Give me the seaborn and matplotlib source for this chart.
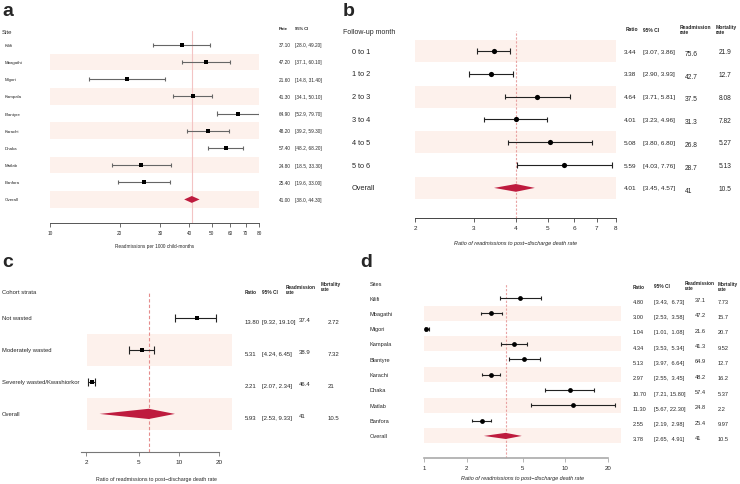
import numpy as np
import matplotlib
matplotlib.use("Agg")
import matplotlib.pyplot as plt
from matplotlib.transforms import blended_transform_factory
import seaborn as sns

# ---------------- data ----------------
# panel a: readmission rate by site
a_sites = ["Kilifi", "Mbagathi", "Migori", "Kampala", "Blantyre", "Karachi",
           "Dhaka", "Matlab", "Banfora", "Overall"]
a_rate = [37.10, 47.20, 21.60, 41.30, 64.90, 48.20, 57.40, 24.80, 25.40, 41.00]
a_lo = [28.0, 37.1, 14.8, 34.1, 52.9, 39.2, 48.2, 18.5, 19.6, 38.0]
a_hi = [49.20, 60.10, 31.40, 50.10, 79.70, 59.30, 68.20, 33.30, 33.00, 44.30]
a_ticks = [10, 20, 30, 40, 50, 60, 70, 80]

# panel b: by follow-up month
b_months = ["0 to 1", "1 to 2", "2 to 3", "3 to 4", "4 to 5", "5 to 6", "Overall"]
b_ratio = [3.44, 3.38, 4.64, 4.01, 5.08, 5.59, 4.01]
b_lo = [3.07, 2.90, 3.71, 3.23, 3.80, 4.03, 3.45]
b_hi = [3.86, 3.93, 5.81, 4.96, 6.80, 7.76, 4.57]
b_readm = ["75.6", "42.7", "37.5", "31.3", "26.8", "28.7", "41"]
b_mort = ["21.9", "12.7", "8.08", "7.82", "5.27", "5.13", "10.5"]
b_ticks = [2, 3, 4, 5, 6, 7, 8]

# panel c: by cohort strata
c_strata = ["Not wasted", "Moderately wasted", "Severely wasted/Kwashiorkor", "Overall"]
c_ratio = [13.80, 5.31, 2.21, 5.93]
c_lo = [9.32, 4.24, 2.07, 2.53]
c_hi = [19.10, 6.45, 2.34, 9.33]
c_readm = ["37.4", "38.9", "46.4", "41"]
c_mort = ["2.72", "7.32", "21", "10.5"]
c_ticks = [2, 5, 10, 20]

# panel d: ratio by site
d_sites = a_sites
d_ratio = [4.80, 3.00, 1.04, 4.34, 5.13, 2.97, 10.70, 11.30, 2.55, 3.78]
d_lo = [3.43, 2.53, 1.01, 3.53, 3.97, 2.55, 7.21, 5.67, 2.19, 2.65]
d_hi = [6.73, 3.58, 1.08, 5.34, 6.64, 3.45, 15.80, 22.30, 2.98, 4.91]
d_readm = ["37.1", "47.2", "21.6", "41.3", "64.9", "48.2", "57.4", "24.8", "25.4", "41"]
d_mort = ["7.73", "15.7", "20.7", "9.52", "12.7", "16.2", "5.37", "2.2", "9.97", "10.5"]
d_ticks = [1, 2, 5, 10, 20]

BAND = "#FDF1EC"
DIAM = "#BE1B3E"
W, H = 740, 485

sns.set_theme(style="white")
plt.rcParams["font.family"] = ["Liberation Sans", "DejaVu Sans"]

fig = plt.figure(figsize=(W / 100, H / 100), dpi=100)


def add_ax(x0, y0, x1, y1):
    return fig.add_axes([x0 / W, 1 - y1 / H, (x1 - x0) / W, (y1 - y0) / H])


def put(ax, xpix, y, s, **kw):
    tr = blended_transform_factory(fig.transFigure, ax.transData)
    ax.text(xpix / W, y, s, transform=tr, clip_on=False, **kw)


def forest(ax, est, lo, hi, xlim, ylim, bands, marker, msize, lcolor,
           ref, refstyle, refcolor, ticks, tickfs, axcolor, axlw, bounds,
           band_x=None, dh=0.17):
    n = len(est)
    ax.set_xscale("log")
    ax.set_xlim(*xlim)
    ax.set_ylim(*ylim)
    bx = band_x if band_x else xlim
    for i in bands:
        ax.fill_between([bx[0], bx[1]], i - 0.49, i + 0.49, color=BAND, lw=0, zorder=0)
    ax.axvline(ref, color=refcolor, ls=refstyle, lw=0.8, zorder=1)
    rows = np.arange(n - 1)
    for i in rows:
        ax.hlines(i, lo[i], hi[i], color=lcolor, lw=0.8, zorder=2)
        ax.vlines([lo[i], hi[i]], i - 0.12, i + 0.12, color=lcolor, lw=0.8, zorder=2)
    sns.scatterplot(x=est[:-1], y=rows, ax=ax, marker=marker, s=msize,
                    color="black", edgecolor="black", linewidth=0, legend=False, zorder=3)
    k = n - 1
    ax.fill([lo[k], est[k], hi[k], est[k]], [k, k - dh, k, k + dh],
            color=DIAM, lw=0, zorder=3)
    for s in ["top", "right", "left"]:
        ax.spines[s].set_visible(False)
    ax.spines["bottom"].set_color(axcolor)
    ax.spines["bottom"].set_linewidth(axlw)
    ax.spines["bottom"].set_bounds(*bounds)
    ax.set_yticks([])
    ax.set_xticks(ticks)
    ax.set_xticklabels([str(t) for t in ticks])
    ax.xaxis.set_minor_locator(matplotlib.ticker.NullLocator())
    ax.tick_params(axis="x", bottom=True, length=3, width=0.6, color=axcolor,
                   labelsize=tickfs, pad=2)
    ax.patch.set_alpha(0)


# ---------- panel a ----------
ax = add_ax(50, 32, 259, 224)
forest(ax, a_rate, a_lo, a_hi, (10, 80), (10.37, -0.8), [1, 3, 5, 7, 9],
       "s", 5, "#666666", 41.0, "-", "#F3C4C4", a_ticks, 3.4, "#555555", 0.7, (10, 80),
       dh=0.2)
ax.set_xlabel("Readmissions per 1000 child-months", fontsize=3.4, labelpad=6)
fig.text(2 / W, 1 - 12 / H, "a", fontsize=14, fontweight="bold", va="center")
put(ax, 2, -0.8, "Site", fontsize=4.3, va="center")
put(ax, 279, -0.95, "Rate", fontsize=3, fontweight="bold", va="center")
put(ax, 295, -0.95, "95% CI", fontsize=3, fontweight="bold", va="center")
for i, s in enumerate(a_sites):
    put(ax, 5, i, s, fontsize=3.2, va="center")
    put(ax, 279, i, f"{a_rate[i]:.2f}", fontsize=3.4, va="center")
    put(ax, 295, i, f"[{a_lo[i]:.1f}, {a_hi[i]:.2f}]", fontsize=3.4, va="center")

# ---------- panel b ----------
ax = add_ax(415, 32, 616, 219)
forest(ax, b_ratio, b_lo, b_hi, (2, 8), (7.32, -0.88), [0, 2, 4, 6],
       "o", 14, "#222222", 4.01, (0, (2, 1.5)), "#E9A3A3", b_ticks, 4.6, "#444444", 0.7, (2, 8))
ax.set_xlabel("Ratio of readmissions to post\u2212discharge death rate",
              fontsize=4, style="italic", labelpad=7)
fig.text(343 / W, 1 - 12 / H, "b", fontsize=14, fontweight="bold", va="center")
put(ax, 343, -0.88, "Follow-up month", fontsize=5, va="center")
put(ax, 626, -1.0, "Ratio", fontsize=3.6, fontweight="bold", va="center")
put(ax, 643, -0.95, "95% CI", fontsize=3.6, fontweight="bold", va="center")
put(ax, 680, -0.95, "Readmission\nrate", fontsize=3.6, fontweight="bold", va="center",
    linespacing=1.0)
put(ax, 716, -0.95, "Mortality\nrate", fontsize=3.6, fontweight="bold", va="center",
    linespacing=1.0)
for i, s in enumerate(b_months):
    put(ax, 352, i, s, fontsize=5.3, va="center")
    put(ax, 624, i, f"{b_ratio[i]:.2f}", fontsize=4.6, va="center")
    put(ax, 643, i, f"[{b_lo[i]:.2f}, {b_hi[i]:.2f}]", fontsize=4.6, va="center")
    put(ax, 685, i + 0.1, b_readm[i], fontsize=4.8, va="center")
    put(ax, 719, i + 0.03, b_mort[i], fontsize=4.8, va="center")

# ---------- panel c ----------
ax = add_ax(81, 292, 232, 453)
forest(ax, c_ratio, c_lo, c_hi, (1.833, 25.1), (4.19, -0.84), [1, 3],
       "s", 10, "#222222", 5.93, (0, (3, 2)), "#E58C8C", c_ticks, 4.6, "#777777", 0.8,
       (1.833, 20.2), band_x=(2.03, 25.1), dh=0.16)
ax.set_xlabel("Ratio of readmissions to post\u2212discharge death rate",
              fontsize=3.8, labelpad=9)
fig.text(2 / W, 1 - 263 / H, "c", fontsize=14, fontweight="bold", va="center")
put(ax, 2, -0.84, "Cohort strata", fontsize=4.2, va="center")
put(ax, 245, -0.84, "Ratio", fontsize=3.4, fontweight="bold", va="center")
put(ax, 262, -0.84, "95% CI", fontsize=3.4, fontweight="bold", va="center")
put(ax, 286, -0.9, "Readmission\nrate", fontsize=3.4, fontweight="bold", va="center",
    linespacing=1.0)
put(ax, 321, -1.0, "Mortality\nrate", fontsize=3.4, fontweight="bold", va="center",
    linespacing=1.0)
for i, s in enumerate(c_strata):
    put(ax, 2, i, s, fontsize=4.2, va="center")
    put(ax, 245, i + 0.12, f"{c_ratio[i]:.2f}", fontsize=4.3, va="center")
    put(ax, 262, i + 0.12, f"[{c_lo[i]:.2f}, {c_hi[i]:.2f}]", fontsize=4.3, va="center")
    put(ax, 299, i + 0.06, c_readm[i], fontsize=4.3, va="center")
    put(ax, 328, i + 0.12, c_mort[i], fontsize=4.3, va="center")

# ---------- panel d ----------
ax = add_ax(424, 284, 621, 459)
forest(ax, d_ratio, d_lo, d_hi, (1, 24.7), (10.44, -0.98), [1, 3, 5, 7, 9],
       "o", 12, "#222222", 3.78, (0, (2, 1.5)), "#E9A3A3", d_ticks, 4.4, "#AAAAAA", 1.2,
       (1, 20), dh=0.2)
ax.set_xlabel("Ratio of readmissions to post\u2212discharge death rate",
              fontsize=4, style="italic", labelpad=4)
fig.text(360 / W, 1 - 263 / H, "d", fontsize=14, fontweight="bold", va="center")
put(ax, 370, -0.98, "Sites", fontsize=4.1, va="center")
put(ax, 633, -0.75, "Ratio", fontsize=3.4, fontweight="bold", va="center")
put(ax, 654, -0.8, "95% CI", fontsize=3.4, fontweight="bold", va="center")
put(ax, 685, -0.85, "Readmission\nrate", fontsize=3.4, fontweight="bold", va="center",
    linespacing=1.0)
put(ax, 718, -0.8, "Mortality\nrate", fontsize=3.4, fontweight="bold", va="center",
    linespacing=1.0)
for i, s in enumerate(d_sites):
    put(ax, 370, i, s, fontsize=4.1, va="center")
    put(ax, 633, i + 0.2, f"{d_ratio[i]:.2f}", fontsize=4.1, va="center")
    put(ax, 654, i + 0.2, f"[{d_lo[i]:.2f}, {d_hi[i]:5.2f}]", fontsize=4.1, va="center")
    put(ax, 695, i + 0.1, d_readm[i], fontsize=4.1, va="center")
    put(ax, 718, i + 0.2, d_mort[i], fontsize=4.1, va="center")

fig.savefig("out.png", dpi=100)
